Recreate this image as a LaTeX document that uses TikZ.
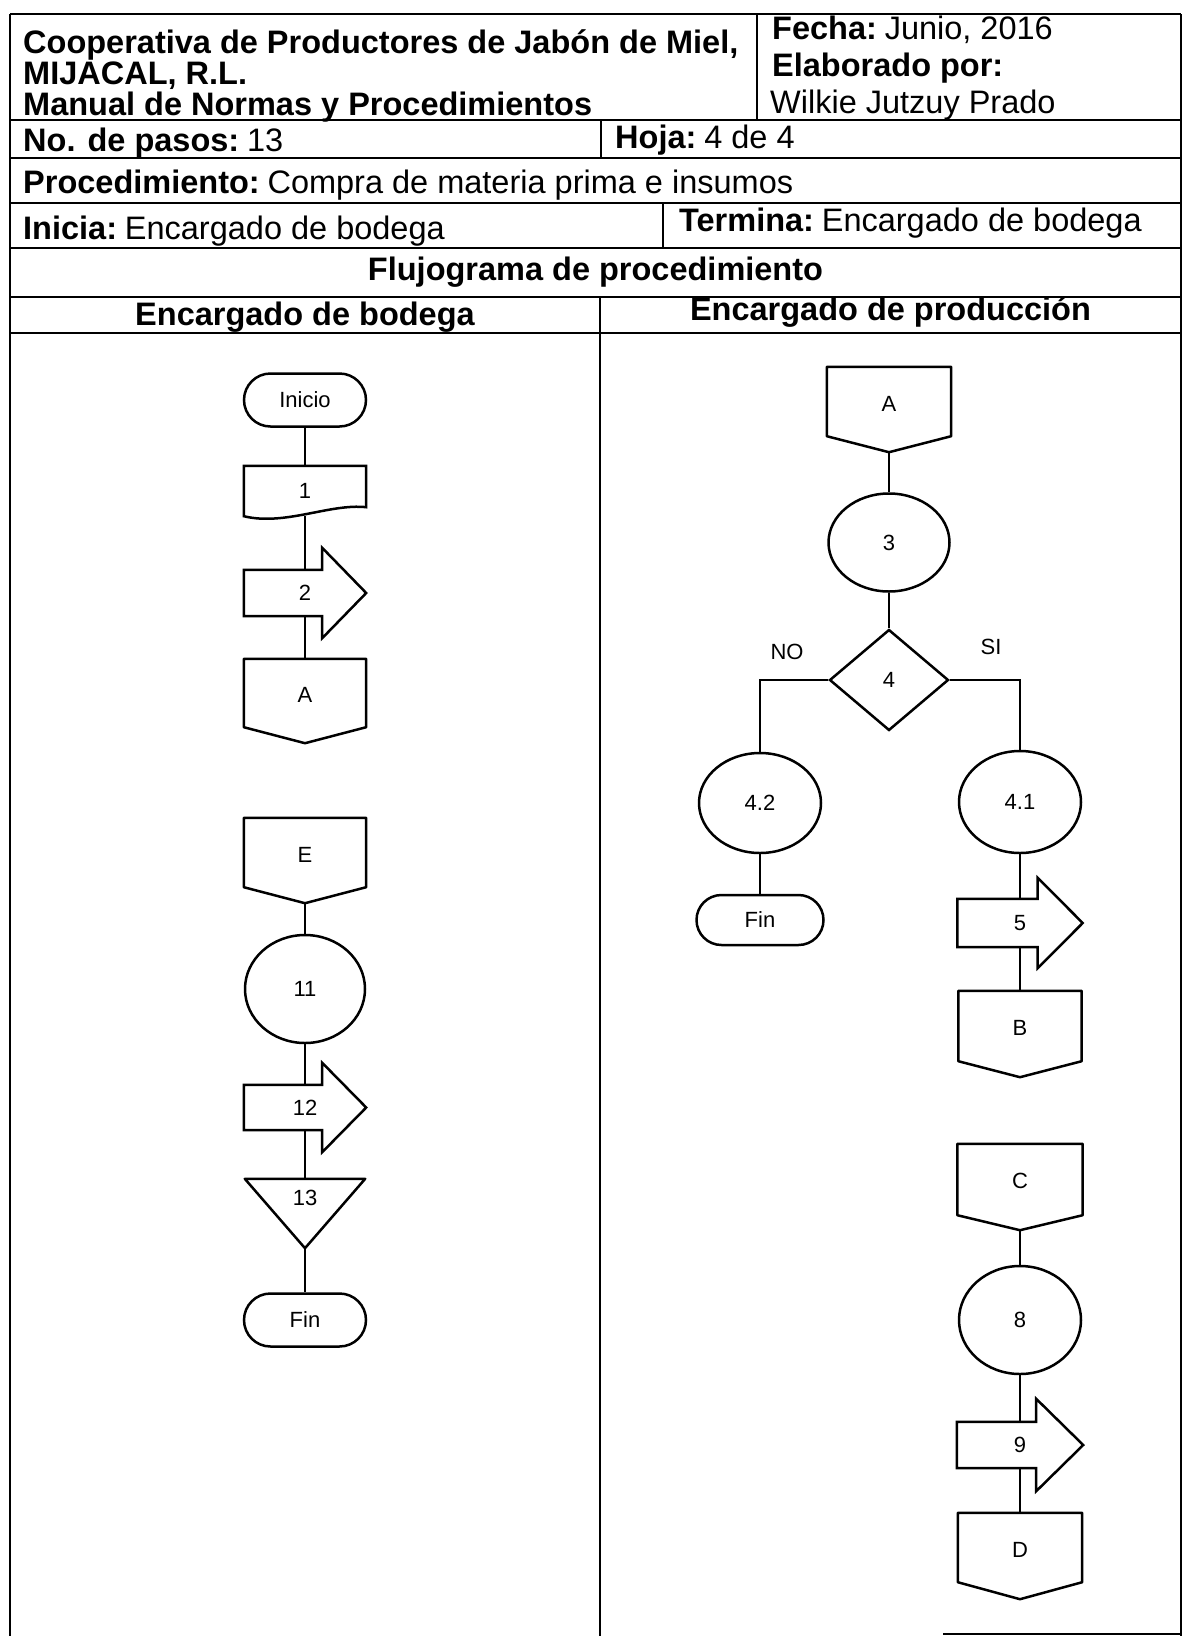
\documentclass[tikz,border=0pt]{standalone}
\usepackage{fontspec}
\setmainfont{Liberation Sans}
\usetikzlibrary{shapes.geometric,shapes.misc,calc}
\tikzset{
  tline/.style={line width=1.5pt},
  fl/.style={line width=2.5pt},
  hdr/.style={font=\fontsize{32.5}{38}\selectfont, inner sep=0pt, anchor=base west},
  hdrc/.style={font=\fontsize{32.5}{38}\selectfont\bfseries, inner sep=0pt, anchor=base},
  lbl/.style={font=\fontsize{22}{26}\selectfont, inner sep=0pt},
  term/.style={lbl, rounded rectangle, draw, fl, minimum width=122pt, minimum height=53pt},
  proc/.style={lbl, ellipse, draw, fl, inner sep=0pt},
  opc/.style={lbl, minimum width=122pt, minimum height=84pt, text depth=12pt},
  barrow/.style={lbl, minimum width=122pt},
  dec/.style={lbl, diamond, draw, fl, minimum width=119pt, minimum height=101pt},
}
\newcommand\colsp{\hspace{0.24em}}
\newcommand\offpagepath[2]{\draw[fl, line join=round] (#1.north west) -- (#1.north east) -- ($(#1.south east)+(0,-#2)$) -- (#1.south) -- ($(#1.south west)+(0,-#2)$) -- cycle;}
\newcommand\blockarrowpath[3]{\draw[fl] (#1.north west) -- ($(#1.north east)+(-#2,0)$) -- ++(0,-#3) -- (#1.east) -- ($(#1.south east)+(-#2,#3)$) -- ++(0,-#3) -- (#1.south west) -- cycle;}
\begin{document}
\begin{tikzpicture}[x=1pt,y=-1pt]
\useasboundingbox (0,0) rectangle (1183,1636);
\fill[white] (0,0) rectangle (1183,1636);
% table
\draw[tline] (10,14) -- (1181,14);
\foreach \yy in {120,158,203,248,297,333} \draw[tline] (10,\yy) -- (1181,\yy);
\draw[tline] (10,14) -- (10,1636);
\draw[tline] (1181,14) -- (1181,1636);
\draw[tline] (943,1634) -- (1181,1634);
\draw[tline] (757,14) -- (757,120);
\draw[tline] (601,120) -- (601,158);
\draw[tline] (663,203) -- (663,248);
\draw[tline] (600,297) -- (600,1636);
% header texts
\node[hdr] (t1) at (23,53) {\textbf{Cooperativa de Productores de Jabón de Miel,}};
\node[hdr] (t2) at (23,84) {\textbf{MIJACAL, R.L.}};
\node[hdr] (t3) at (23,115) {\textbf{Manual de Normas y Procedimientos}};
\node[hdr] (t4) at (772,39) {\textbf{Fecha:}\colsp Junio, 2016};
\node[hdr] (t5) at (772,76) {\textbf{Elaborado por:}};
\node[hdr] (t6) at (770,113) {Wilkie Jutzuy Prado};
\node[hdr] (t7) at (23,151) {\textbf{No. de pasos:}\colsp 13};
\node[hdr] (t8) at (615,148) {\textbf{Hoja:}\colsp 4 de 4};
\node[hdr] (t9) at (23,193) {\textbf{Procedimiento:}\colsp Compra de materia prima e insumos};
\node[hdr] (t10) at (23,239) {\textbf{Inicia:}\colsp Encargado de bodega};
\node[hdr] (t11) at (679,231) {\textbf{Termina:}\colsp Encargado de bodega};
\node[hdrc] (t12) at (595.5,280) {Flujograma de procedimiento};
\node[hdrc] (t13h) at (305,325) {Encargado de bodega};
\node[hdrc] (t14) at (890.5,320) {Encargado de producción};
% left column
\node[term] (ini) at (305,400) {Inicio};
\node[lbl, minimum width=122pt, minimum height=50pt] (d1) at (305,491) {1};
\draw[fl] (d1.north west) -- (d1.north east) -- ($(d1.south east)+(0,-9)$) .. controls ($(d1.south east)+(-36,-13)$) and ($(d1.south west)+(41,10)$) .. (d1.south west) -- cycle;
\node[barrow, minimum height=46pt] (a2) at (305,593) {2};
\blockarrowpath{a2}{44}{22}
\node[opc] (oA) at (305,701) {A};
\offpagepath{oA}{16}
\node[opc, minimum height=85pt] (oE) at (305,860.5) {E};
\offpagepath{oE}{16}
\node[proc, minimum width=120pt, minimum height=108pt] (p11) at (305,989) {11};
\node[barrow, minimum height=45pt] (a12) at (305,1107.5) {12};
\blockarrowpath{a12}{44}{22}
\node[lbl, minimum width=120pt, minimum height=69pt] (t13) at (305,1213.5) {};
\draw[fl, line join=round] (t13.north west) -- (t13.north east) -- (t13.south) -- cycle;
\node[lbl] (t13t) at (305,1198) {13};
\node[term] (fin1) at (305,1320) {Fin};
\draw[fl] (ini.south) -- (d1.north);
\draw[fl] (d1.south) -- (a2.north);
\draw[fl] (a2.south) -- (oA.north);
\draw[fl] (oE.south) -- (p11.north);
\draw[fl] (p11.south) -- (a12.north);
\draw[fl] (a12.south) -- (t13.north);
\draw[fl] (t13.south) -- (fin1.north);
% right column
\node[opc, minimum width=124pt, minimum height=85pt] (oA2) at (889,409.5) {A};
\offpagepath{oA2}{16}
\node[proc, minimum width=121pt, minimum height=98pt] (p3) at (889,542.5) {3};
\node[dec] (d4) at (889,680) {4};
\node[lbl] (lno) at (787,652) {NO};
\node[lbl] (lsi) at (991,647) {SI};
\node[proc, minimum width=122pt, minimum height=100pt] (p42) at (760,803) {4.2};
\node[term, minimum width=127pt, minimum height=50pt] (fin2) at (760,920) {Fin};
\node[proc, minimum width=122pt, minimum height=102pt] (p41) at (1020,802) {4.1};
\node[barrow, minimum width=125pt, minimum height=48pt] (a5) at (1020,923) {5};
\blockarrowpath{a5}{45}{21}
\node[opc, minimum width=123pt, minimum height=86pt] (oB) at (1020,1034) {B};
\offpagepath{oB}{16}
\node[opc, minimum width=125pt, minimum height=86pt] (oC) at (1020,1187) {C};
\offpagepath{oC}{15}
\node[proc, minimum width=122pt, minimum height=108pt] (p8) at (1020,1320) {8};
\node[barrow, minimum width=126pt, minimum height=46pt] (a9) at (1020,1445) {9};
\blockarrowpath{a9}{47}{23}
\node[opc, minimum width=124pt, minimum height=86pt] (oD) at (1020,1556) {D};
\offpagepath{oD}{17}
\draw[fl] (oA2.south) -- (p3.north);
\draw[fl] (p3.south) -- (d4.north);
\draw[fl] (d4.west) -- (d4.west -| p42.north) -- (p42.north);
\draw[fl] (d4.east) -- (d4.east -| p41.north) -- (p41.north);
\draw[fl] (p42.south) -- (fin2.north);
\draw[fl] (p41.south) -- (a5.north);
\draw[fl] (a5.south) -- (oB.north);
\draw[fl] (oC.south) -- (p8.north);
\draw[fl] (p8.south) -- (a9.north);
\draw[fl] (a9.south) -- (oD.north);
\end{tikzpicture}
\end{document}
